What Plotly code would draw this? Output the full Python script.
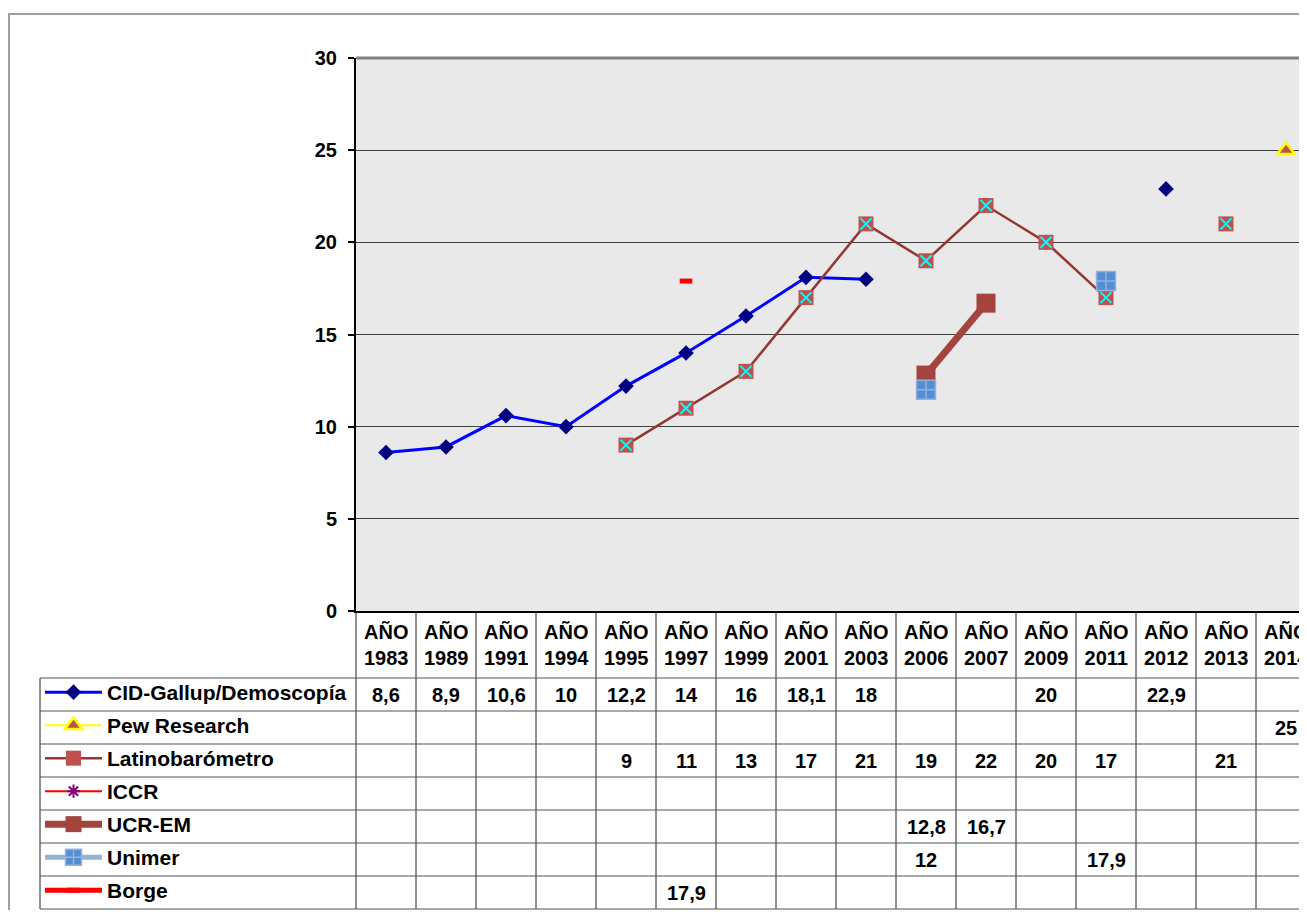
import plotly.graph_objects as go

# ---------------- data ----------------
years = ["1983", "1989", "1991", "1994", "1995", "1997", "1999", "2001",
         "2003", "2006", "2007", "2009", "2011", "2012", "2013", "2014"]
header_prefix = "AÑO"

series_names = ["CID-Gallup/Demoscopía", "Pew Research", "Latinobarómetro",
                "ICCR", "UCR-EM", "Unimer", "Borge"]

cid = [8.6, 8.9, 10.6, 10, 12.2, 14, 16, 18.1, 18, None, None, 20, None, 22.9, None, None]
pew = [None, None, None, None, None, None, None, None, None, None, None, None, None, None, None, 25]
latino = [None, None, None, None, 9, 11, 13, 17, 21, 19, 22, 20, 17, None, 21, None]
iccr = [None] * 16
ucr = [None, None, None, None, None, None, None, None, None, 12.8, 16.7, None, None, None, None, None]
unimer = [None, None, None, None, None, None, None, None, None, 12, None, None, 17.9, None, None, None]
borge = [None, None, None, None, None, 17.9, None, None, None, None, None, None, None, None, None, None]

series_values = [cid, pew, latino, iccr, ucr, unimer, borge]

y_ticks = [0, 5, 10, 15, 20, 25, 30]

# ---------------- geometry helpers ----------------
W, H = 1299, 902
OFF = 8  # default body margin of the page


def px(sx):
    return (sx - OFF) / W


def py(sy):
    return max(0.0, min(1.0, 1 - (sy - OFF) / H))


FONT = "Liberation Sans, Arial, Helvetica, sans-serif"
COLW = 60.0
plot_left, plot_top, plot_bottom = 356, 58, 611
table_bottom_dom = 910
row_px = 33.0
hdr = 67.0 / row_px
n_rows = len(series_names)
y2_max = (table_bottom_dom - plot_bottom) / row_px
LEG_FONT = 21


def fmt(v):
    if v is None:
        return ""
    return ("%g" % v).replace(".", ",")


fig = go.Figure()

# ---------------- traces ----------------
fig.add_trace(go.Scatter(
    x=years, y=cid, name=series_names[0], mode="lines+markers", legendgroup="g0",
    line=dict(color="#0000FF", width=3),
    marker=dict(symbol="diamond", size=12, color="#000080"),
))
fig.add_trace(go.Scatter(
    x=years, y=pew, name=series_names[1], mode="lines+markers", legendgroup="g1",
    line=dict(color="#FFFF00", width=2),
    marker=dict(symbol="triangle-up", size=15, color="#C0504D",
                line=dict(color="#FFFF00", width=2.5)),
))
fig.add_trace(go.Scatter(
    x=years, y=latino, name=series_names[2], mode="lines+markers", legendgroup="g2",
    line=dict(color="#943634", width=2.5),
    marker=dict(symbol="square", size=15, color="#C0504D"),
))
fig.add_trace(go.Scatter(
    x=years, y=latino, name=series_names[2], mode="markers", legendgroup="g2",
    showlegend=False, hoverinfo="skip",
    marker=dict(symbol="x-thin", size=11, color="#00FFFF",
                line=dict(color="#00FFFF", width=2)),
))
fig.add_trace(go.Scatter(
    x=years, y=iccr, name=series_names[3], mode="lines+markers", legendgroup="g3",
    line=dict(color="#FF0000", width=2),
    marker=dict(symbol="asterisk-open", size=11, color="#800080",
                line=dict(color="#800080", width=2)),
))
fig.add_trace(go.Scatter(
    x=years, y=ucr, name=series_names[4], mode="lines+markers", legendgroup="g4",
    line=dict(color="#A5433F", width=7),
    marker=dict(symbol="square", size=19, color="#A5433F"),
))
fig.add_trace(go.Scatter(
    x=years, y=unimer, name=series_names[5], mode="lines+markers", legendgroup="g5",
    line=dict(color="#95B3D7", width=5),
    marker=dict(symbol="square-cross", size=19, color="#558ED5",
                line=dict(color="#95B3D7", width=1.5)),
))
fig.add_trace(go.Scatter(
    x=years, y=borge, name=series_names[6], mode="lines+markers", legendgroup="g6",
    line=dict(color="#FF0000", width=5),
    marker=dict(symbol="line-ew-open", size=9, color="#FF0000",
                line=dict(color="#FF0000", width=5)),
))

# ---------------- table (annotations + lines) ----------------
ann = []
for i, yr in enumerate(years):
    ann.append(dict(x=i, y=hdr / 2, xref="x", yref="y2", showarrow=False,
                    text="<b>%s<br>%s</b>" % (header_prefix, yr),
                    font=dict(family=FONT, size=20, color="black"),
                    xanchor="center", yanchor="middle"))
for r, vals in enumerate(series_values):
    for i, v in enumerate(vals):
        if v is None:
            continue
        ann.append(dict(x=i, y=hdr + r + 0.5, xref="x", yref="y2", showarrow=False,
                        text="<b>%s</b>" % fmt(v),
                        font=dict(family=FONT, size=20, color="black"),
                        xanchor="center", yanchor="middle"))

shapes = []
# outer chart border
shapes.append(dict(type="rect", xref="paper", yref="paper", x0=px(9), x1=1.05,
                   y0=-0.05, y1=py(14), line=dict(color="#A0A0A0", width=2),
                   layer="below"))
# plot-area background (below gridlines)
shapes.append(dict(type="rect", xref="x domain", yref="y domain", x0=0, x1=1,
                   y0=0, y1=1, fillcolor="#E9E9E9", line=dict(width=0),
                   layer="below"))
# plot-area top border
shapes.append(dict(type="line", xref="paper", yref="paper", x0=px(plot_left), x1=1,
                   y0=py(plot_top), y1=py(plot_top), line=dict(color="#808080", width=3)))
# column separators
for k in range(1, len(years)):
    shapes.append(dict(type="line", xref="x", yref="y2", x0=k - 0.5, x1=k - 0.5,
                       y0=0, y1=hdr + n_rows, line=dict(color="#202020", width=1)))
shapes.append(dict(type="line", xref="paper", yref="y2", x0=px(plot_left), x1=px(plot_left),
                   y0=0, y1=hdr + n_rows, line=dict(color="#202020", width=1)))
# table left border
shapes.append(dict(type="line", xref="paper", yref="y2", x0=px(40), x1=px(40),
                   y0=hdr, y1=hdr + n_rows, line=dict(color="#202020", width=1)))
# row separators
for r in range(n_rows + 1):
    shapes.append(dict(type="line", xref="paper", yref="y2", x0=px(40), x1=1,
                       y0=hdr + r, y1=hdr + r, line=dict(color="#505050", width=1)))

leg_item_h = LEG_FONT * 1.3 + 3

fig.update_layout(
    width=W, height=H,
    margin=dict(l=0, r=0, t=0, b=0, autoexpand=False),
    paper_bgcolor="white",
    plot_bgcolor="rgba(0,0,0,0)",
    font=dict(family=FONT, color="black"),
    showlegend=True,
    legend=dict(x=px(40), y=py(672), xanchor="left", yanchor="top",
                bgcolor="rgba(0,0,0,0)", borderwidth=0,
                font=dict(family=FONT, size=LEG_FONT, color="black", weight="bold"),
                tracegroupgap=row_px - leg_item_h, itemwidth=57,
                traceorder="grouped"),
    xaxis=dict(type="category", categoryorder="array", categoryarray=years,
               range=[-0.5, -0.5 + (1307 - plot_left) / COLW],
               domain=[px(plot_left), 1], anchor="y",
               showline=True, linecolor="black", linewidth=2,
               showticklabels=False, ticks="", showgrid=False, zeroline=False),
    yaxis=dict(range=[0, 30], tickvals=y_ticks, domain=[py(plot_bottom), py(plot_top)],
               anchor="x", showline=True, linecolor="black", linewidth=2,
               ticks="outside", ticklen=6, tickwidth=1.5, tickcolor="black",
               ticklabelstandoff=7,
               tickfont=dict(family=FONT, size=20, color="black", weight="bold"),
               showgrid=True, gridcolor="#404040", gridwidth=1, zeroline=False),
    yaxis2=dict(range=[y2_max, 0], domain=[py(table_bottom_dom), py(plot_bottom)],
                anchor="x", showticklabels=False, showgrid=False, zeroline=False,
                showline=False, ticks=""),
    annotations=ann,
    shapes=shapes,
)

fig.write_html("out.html")
